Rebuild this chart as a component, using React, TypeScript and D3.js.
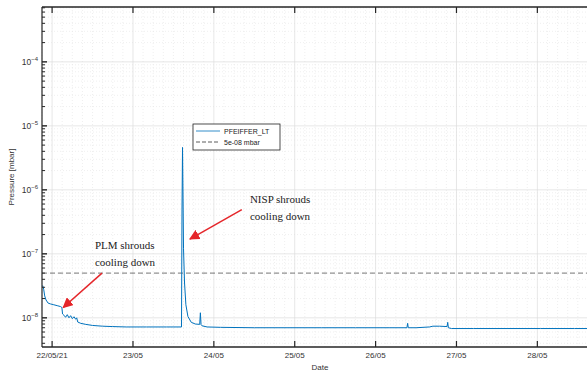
import React from 'react';
import * as d3 from 'd3';

// hours after 22/05/21 00:00 and gauge pressure [mbar]
const hours = [-2.8, -2.5, -2.2, -1.8, -1.2, -0.5, 0.5, 1.5, 2.5, 2.9, 3.1, 3.5, 4.0, 4.5, 5.0, 5.5, 6.0, 6.5, 7.0, 7.3, 7.6, 8.5, 10, 12, 15, 18, 22, 28, 34, 38.4, 38.55, 38.7, 38.85, 39.0, 39.3, 39.7, 40.3, 41.3, 42.5, 43.8, 44.0, 44.2, 44.5, 46, 50, 60, 70, 80, 90, 100, 105.3, 105.5, 105.7, 108, 112, 113, 115, 117.2, 117.4, 117.6, 118.5, 125, 135, 145, 155, 165];
const pressure = [3.2e-8, 2.8e-8, 2.2e-8, 1.9e-8, 1.7e-8, 1.65e-8, 1.6e-8, 1.55e-8, 1.5e-8, 1.45e-8, 1.15e-8, 1.1e-8, 1.02e-8, 1.12e-8, 1.0e-8, 1.08e-8, 9.7e-9, 1.04e-8, 9.5e-9, 1.0e-8, 8.6e-9, 8.2e-9, 7.9e-9, 7.6e-9, 7.4e-9, 7.3e-9, 7.2e-9, 7.2e-9, 7.2e-9, 7.2e-9, 5e-7, 4.6e-6, 8e-7, 1.2e-7, 3.5e-8, 1.6e-8, 1.05e-8, 8.5e-9, 8.0e-9, 7.9e-9, 1.2e-8, 7.8e-9, 7.5e-9, 7.2e-9, 7.1e-9, 7.0e-9, 7.0e-9, 7.0e-9, 7.0e-9, 7.0e-9, 7.0e-9, 8.2e-9, 7.0e-9, 7.0e-9, 7.2e-9, 7.4e-9, 7.4e-9, 7.3e-9, 8.5e-9, 7.0e-9, 6.8e-9, 6.8e-9, 6.8e-9, 6.8e-9, 6.8e-9, 6.8e-9];

const threshold = 5e-8;
const seriesName = 'PFEIFFER_LT';
const thresholdName = '5e-08 mbar';
const yTickExps = [-8, -7, -6, -5, -4];
const dayTicks = ['22/05/21', '23/05', '24/05', '25/05', '26/05', '27/05', '28/05'];

// annotations: arrow tail/head and text anchor, in (hours, mbar)
const notes = [
  { lines: ['PLM shrouds', 'cooling down'], text: [12.7, 1.2e-7], tail: [14.8, 5.0e-8], head: [3.3, 1.45e-8] },
  { lines: ['NISP shrouds', 'cooling down'], text: [58.7, 6.3e-7], tail: [56.3, 4.9e-7], head: [40.9, 1.7e-7] },
];

const t0 = new Date(2021, 4, 22).getTime();
const toDate = (h: number) => new Date(t0 + h * 3600e3);

export default function App() {
  const W = 587, H = 377;
  const left = 42, right = 598, top = 7, bottom = 347;

  const x = d3.scaleTime().domain([toDate(-3), toDate(162)]).range([left, right]);
  const y = d3.scaleLog().domain([3.5e-9, 7.2e-4]).range([bottom, top]);

  const line = d3.line<number>()
    .x((_, i) => x(toDate(hours[i])))
    .y(d => y(d));

  const dayDates = dayTicks.map((_, i) => toDate(24 * i));
  const minorX = d3.range(-3, 162, 3).filter(h => h % 24 !== 0).map(toDate);
  const minorY: number[] = [];
  for (let e = -9; e <= -4; e++) for (let m = 2; m <= 9; m++) {
    const v = m * Math.pow(10, e);
    if (v > 3.5e-9 && v < 7.2e-4) minorY.push(v);
  }

  const grid = '#dcdcdc';
  const axisCol = '#262626';
  const sans = 'Liberation Sans, Arial, sans-serif';

  return (
    <svg width={W} height={H} style={{ position: 'absolute', left: 0, top: 0, background: '#fff' }}>
      <defs>
        <marker id="arr" viewBox="0 0 10 10" refX="9" refY="5" markerWidth="7" markerHeight="7" orient="auto">
          <path d="M0,0 L10,5 L0,10 z" fill="#e5262a" />
        </marker>
        <clipPath id="plot"><rect x={left} y={top} width={right - left} height={bottom - top} /></clipPath>
      </defs>

      {/* minor grid */}
      {minorX.map((d, i) => (
        <line key={'mx' + i} x1={x(d)} x2={x(d)} y1={top} y2={bottom} stroke="#e4e4e4" strokeWidth={0.6} strokeDasharray="1,2" />
      ))}
      {minorY.map((v, i) => (
        <line key={'my' + i} x1={left} x2={right} y1={y(v)} y2={y(v)} stroke="#e4e4e4" strokeWidth={0.6} strokeDasharray="1,2" />
      ))}
      {/* major grid */}
      {dayDates.map((d, i) => (
        <line key={'gx' + i} x1={x(d)} x2={x(d)} y1={top} y2={bottom} stroke={grid} strokeWidth={0.7} />
      ))}
      {yTickExps.map(e => (
        <line key={'gy' + e} x1={left} x2={right} y1={y(Math.pow(10, e))} y2={y(Math.pow(10, e))} stroke={grid} strokeWidth={0.7} />
      ))}

      {/* threshold */}
      <line x1={left} x2={right} y1={y(threshold)} y2={y(threshold)} stroke="#555" strokeWidth={0.8} strokeDasharray="5,3" />

      {/* series */}
      <path d={line(pressure) || ''} fill="none" stroke="#0072BD" strokeWidth={1} clipPath="url(#plot)" />

      {/* axes box */}
      <line x1={left} x2={right} y1={top} y2={top} stroke={axisCol} strokeWidth={1.6} />
      <line x1={left} x2={right} y1={bottom} y2={bottom} stroke={axisCol} strokeWidth={1.6} />
      <line x1={left} x2={left} y1={top} y2={bottom} stroke={axisCol} strokeWidth={1.2} />

      {/* y ticks */}
      {minorY.map((v, i) => (
        <line key={'ty' + i} x1={left} x2={left + 3} y1={y(v)} y2={y(v)} stroke={axisCol} strokeWidth={1} />
      ))}
      {yTickExps.map(e => (
        <g key={'yl' + e}>
          <line x1={left} x2={left + 5} y1={y(Math.pow(10, e))} y2={y(Math.pow(10, e))} stroke={axisCol} strokeWidth={1.4} />
          <text x={38} y={y(Math.pow(10, e)) + 3} textAnchor="end" fontFamily={sans} fontSize={8.5} fill="#333">
            10<tspan dy={-4} fontSize={6}>{'\u2212' + Math.abs(e)}</tspan>
          </text>
        </g>
      ))}

      {/* x ticks */}
      {dayDates.map((d, i) => (
        <g key={'xl' + i}>
          <line x1={x(d)} x2={x(d)} y1={bottom} y2={bottom - 6} stroke={axisCol} strokeWidth={1.2} />
          <line x1={x(d)} x2={x(d)} y1={top} y2={top + 6} stroke={axisCol} strokeWidth={1.2} />
          <text x={x(d)} y={bottom + 11} textAnchor="middle" fontFamily={sans} fontSize={8} fill="#333">{dayTicks[i]}</text>
        </g>
      ))}

      {/* axis labels */}
      <text x={320} y={370} textAnchor="middle" fontFamily={sans} fontSize={8} fill="#333">Date</text>
      <text transform={`translate(14,${(top + bottom) / 2}) rotate(-90)`} textAnchor="middle" fontFamily={sans} fontSize={8} fill="#333">Pressure [mbar]</text>

      {/* annotations */}
      {notes.map((n, i) => (
        <g key={'n' + i}>
          <line x1={x(toDate(n.tail[0]))} y1={y(n.tail[1])} x2={x(toDate(n.head[0]))} y2={y(n.head[1])}
            stroke="#e5262a" strokeWidth={1.5} markerEnd="url(#arr)" />
          {n.lines.map((s, j) => (
            <text key={j} x={x(toDate(n.text[0]))} y={y(n.text[1]) + j * 17} fontFamily="Liberation Serif, Times New Roman, serif" fontSize={11} fill="#222">{s}</text>
          ))}
        </g>
      ))}

      {/* legend */}
      <g>
        <rect x={193} y={124} width={87} height={26} fill="#fff" stroke="#222" strokeWidth={0.8} />
        <line x1={196} x2={220} y1={131} y2={131} stroke="#0072BD" strokeWidth={0.8} />
        <text x={224} y={133.5} fontFamily={sans} fontSize={7} fill="#222">{seriesName}</text>
        <line x1={196} x2={220} y1={142} y2={142} stroke="#333" strokeWidth={0.8} strokeDasharray="4,2" />
        <text x={224} y={144.5} fontFamily={sans} fontSize={7} fill="#222">{thresholdName}</text>
      </g>
    </svg>
  );
}
